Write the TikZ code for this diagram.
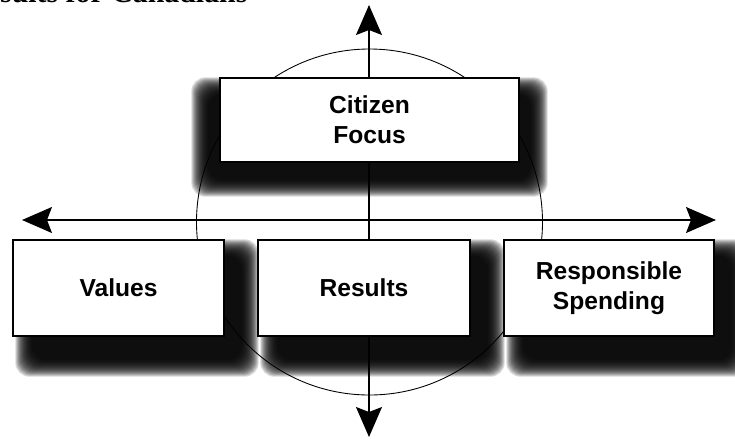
\documentclass[tikz,border=0pt]{standalone}
\usepackage{fontspec}
\setmainfont{Liberation Sans}
\newfontfamily\titlefont{Liberation Serif}
\usetikzlibrary{arrows.meta,calc}
\pgfdeclarelayer{shadowlayer}
\pgfdeclarelayer{linelayer}
\pgfsetlayers{shadowlayer,linelayer,main}
\tikzset{
  box/.style={draw, fill=white, line width=0.8pt, align=center, inner sep=0pt,
    font=\fontsize{14}{17}\selectfont\bfseries},
  axis/.style={line width=0.8pt,
    {Stealth[length=0.6cm, width=0.52cm, inset=0.1cm]}-{Stealth[length=0.6cm, width=0.52cm, inset=0.1cm]}},
}
% ombre floue : coin haut-gauche, coin bas-droit
\newcommand{\softshadow}[2]{%
  \foreach \k in {0,...,17} {
    \fill[black, opacity=0.15, rounded corners=8]
      ($#1+(\k,\k)$) rectangle ($#2-(\k,\k)$);
  }%
}
\begin{document}
\begin{tikzpicture}[x=0.02cm, y=-0.02cm]
\useasboundingbox (0,0) rectangle (735,441);

% 1. Titre coupe en haut
\begin{scope}
\clip (0,0) rectangle (735,441);
\node[anchor=base west, inner sep=0pt, font=\titlefont\fontsize{17}{20}\selectfont\bfseries]
  (titre) at (-35,2) {Results for Canadians};
\end{scope}

% 2. Les quatre boites
\node[box, minimum width=5.98cm, minimum height=1.68cm] (citizen) at (369.5,120) {Citizen\\Focus};
\node[box, minimum width=4.22cm, minimum height=1.92cm] (values) at (118.5,288) {Values};
\node[box, minimum width=4.24cm, minimum height=1.92cm] (results) at (364,288) {Results};
\node[box, minimum width=4.2cm, minimum height=1.92cm] (spending) at (609,288) {Responsible\\Spending};

% 3. Ombres floues sous les boites
\begin{pgfonlayer}{shadowlayer}
\softshadow{(citizen.north west)+(-28,0)}{(citizen.south east)+(28,34)}
\softshadow{(values.north west)+(3,0)}{(values.south east)+(34,40)}
\softshadow{(results.north west)+(3,0)}{(results.south east)+(34,40)}
\softshadow{(spending.north west)+(3,0)}{(spending.south east)+(34,40)}
\end{pgfonlayer}

% 4. Cercle et axes derriere les boites
\coordinate (haut) at (369,5);
\coordinate (bas) at (369,437);
\coordinate (gauche) at (22,220);
\coordinate (droite) at (716,220);
\begin{pgfonlayer}{linelayer}
\draw[line width=0.5pt] (369.5,222) circle (173);
\draw[axis] (bas) -- (haut);
\draw[axis] (gauche) -- (droite);
\end{pgfonlayer}
\end{tikzpicture}
\end{document}
